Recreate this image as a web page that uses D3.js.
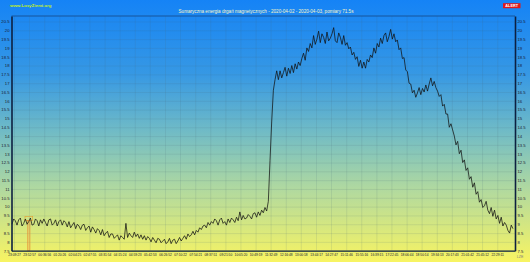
<!DOCTYPE html>
<html><head><meta charset="utf-8">
<script src="https://cdn.jsdelivr.net/npm/d3@7/dist/d3.min.js"></script>
<style>html,body{margin:0;padding:0;overflow:hidden;background:#fff}svg{display:block}</style>
</head><body>
<svg id="c" width="530" height="262"></svg>
<script>
const titleText = "Sumaryczna energia drgań magnetycznych - 2020-04-02 - 2020-04-03, pomiary 71.5s";
const siteText = "www.LosyZiemi.org";
const badgeText = "ALERT";
const cornerText = "LZE";
const xTickLabels = ["23:09:27","23:52:57","00:36:56","01:20:26","02:04:25","02:47:55","03:31:54","04:15:24","04:59:23","05:42:53","06:26:52","07:10:22","07:54:21","08:37:51","09:21:50","10:05:20","10:49:19","11:32:49","12:16:48","13:00:18","13:44:17","14:27:47","15:11:46","15:55:16","16:39:15","17:22:45","18:06:44","18:50:14","19:34:13","20:17:43","21:01:42","21:45:12","22:29:11"];
const yTicks = [7.5,8,8.5,9,9.5,10,10.5,11,11.5,12,12.5,13,13.5,14,14.5,15,15.5,16,16.5,17,17.5,18,18.5,19,19.5,20,20.5];
const xDomainSec = [-434, 87074];      // seconds relative to first tick label
const yDomain = [7.5, 20.81];
const firstSampleSec = -350;
const sampleStepSec = 291.2;
const values = [
9.0,9.3,9.2,8.95,9.25,9.35,8.9,9.05,9.3,9.0,
9.15,9.35,8.95,9.0,9.3,9.2,8.9,9.25,9.05,9.3,
9.1,8.9,9.25,9.3,8.95,9.05,9.25,8.9,9.15,9.25,
8.95,9.2,9.1,8.85,9.15,8.8,8.95,9.1,8.75,9.0,
8.9,8.7,8.95,9.0,8.65,8.8,8.9,8.55,8.85,8.7,
8.5,8.75,8.65,8.4,8.7,8.35,8.5,8.6,8.25,8.45,
8.45,8.2,8.3,8.4,8.1,8.35,8.25,8.15,9.05,8.25,
8.5,8.35,8.25,8.55,8.3,8.45,8.2,8.4,8.15,8.35,
8.1,8.3,8.2,8.0,8.25,8.1,7.95,8.2,8.15,7.95,
8.05,8.15,7.9,8.0,8.2,7.9,8.1,8.15,7.9,8.05,
8.25,8.05,8.2,8.35,8.15,8.45,8.3,8.4,8.6,8.4,
8.65,8.55,8.8,8.7,8.9,8.95,8.8,9.1,8.95,9.15,
9.05,9.3,9.2,8.95,9.25,9.35,9.05,9.15,8.95,9.3,
9.1,9.35,9.25,9.1,9.4,9.2,9.7,9.25,9.5,9.3,
9.35,9.55,9.45,9.3,9.6,9.65,9.4,9.7,9.5,9.8,
9.65,9.95,9.75,10.3,12.6,14.8,16.6,17.2,17.7,17.2,
17.7,17.3,17.6,17.9,17.4,17.85,17.55,18.0,17.6,18.1,
17.8,18.2,18.0,18.4,18.7,18.3,19.0,18.8,19.25,19.0,
19.7,19.2,19.5,19.95,19.3,19.8,19.6,19.25,19.9,19.4,
19.55,19.8,20.15,19.4,19.3,19.85,19.6,19.2,19.7,19.15,
19.3,18.95,19.05,18.6,18.75,18.35,18.5,17.95,18.3,17.85,
18.2,17.85,18.35,18.2,18.6,18.45,19.0,18.7,19.25,19.05,
19.55,19.25,19.7,19.85,19.35,19.65,20.05,19.5,19.8,19.35,
19.45,18.9,19.0,18.4,18.45,17.75,17.65,17.0,16.95,16.45,
16.6,16.2,16.45,16.75,16.35,16.7,16.5,16.9,16.55,16.95,
17.3,16.85,17.1,16.75,16.55,16.25,16.35,15.7,15.8,15.25,
15.25,14.5,14.7,14.35,14.0,13.5,13.7,13.0,13.2,12.5,
12.65,12.05,12.2,11.55,11.7,11.1,11.35,10.7,10.85,10.25,
10.4,9.95,10.05,10.3,9.8,9.6,9.95,9.45,9.8,9.3,
9.5,9.05,9.4,8.9,9.1,8.95,8.65,8.5,8.95,8.75
];
const markerTimeSec = [1912, 3251];
const markerValue = [9.22, 9.45];

// ---------- layout ----------
const W = 530, H = 262;
const L = 11.5, R = 515, T = 16, B = 250.7;
const FONT = "'Liberation Sans', Arial, sans-serif";

function toSec(s){const p=s.split(":").map(Number);return p[0]*3600+p[1]*60+p[2];}
const base = toSec(xTickLabels[0]);
let day = 0, prev = -1;
const xTickSec = xTickLabels.map(s => {
  let v = toSec(s); if (v < prev) day += 86400; prev = v; return v + day - base;
});

const svg = d3.select("#c");
const defs = svg.append("defs");
const grad = defs.append("linearGradient").attr("id","bg").attr("x1",0).attr("y1",0).attr("x2",0).attr("y2",1);
[[0,"#1583f6"],[0.28,"#3698e4"],[0.5,"#70bbc6"],[0.72,"#b0d9a0"],[1,"#f8f462"]].forEach(([o,c]) =>
  grad.append("stop").attr("offset",o).attr("stop-color",c));
svg.append("rect").attr("width",W).attr("height",H).attr("fill","url(#bg)");

const x = d3.scaleLinear().domain(xDomainSec).range([L, R]);
const y = d3.scaleLinear().domain(yDomain).range([B, T]);

// grid
const gridY = svg.append("g").attr("transform",`translate(${L},0)`)
  .call(d3.axisLeft(y).tickValues(yTicks).tickSize(-(R-L)).tickFormat(""));
gridY.select(".domain").remove();
gridY.selectAll("line").attr("stroke","#4a6a78").attr("stroke-opacity",0.25).attr("stroke-width",0.5);
const gridX = svg.append("g").attr("transform",`translate(0,${B})`)
  .call(d3.axisBottom(x).tickValues(xTickSec).tickSize(-(B-T)).tickFormat(""));
gridX.select(".domain").remove();
gridX.selectAll("line").attr("stroke","#4a6a78").attr("stroke-opacity",0.25).attr("stroke-width",0.5);

// top border
svg.append("line").attr("x1",L).attr("x2",R).attr("y1",T).attr("y2",T)
  .attr("stroke","#14407a").attr("stroke-width",0.7);

// marker
const mx0 = x(markerTimeSec[0]), mx1 = x(markerTimeSec[1]);
svg.append("rect").attr("x",mx0).attr("y",y(markerValue[1]))
  .attr("width",mx1-mx0).attr("height",y(markerValue[0])-y(markerValue[1]))
  .attr("fill","none").attr("stroke","#e8a030").attr("stroke-width",0.6);
svg.append("rect").attr("x",(mx0+mx1)/2-1.15).attr("y",y(markerValue[0]))
  .attr("width",2.3).attr("height",B-y(markerValue[0]))
  .attr("fill","rgba(240,150,60,0.35)").attr("stroke","#e88a30").attr("stroke-width",0.5);

// series
const line = d3.line().x((d,i)=>x(firstSampleSec + i*sampleStepSec)).y(d=>y(d));
svg.append("path").datum(values).attr("d",line).attr("fill","none")
  .attr("stroke","#111").attr("stroke-width",0.75).attr("stroke-linejoin","round");

// axes
function styleAxis(g, w, fs){
  g.select(".domain").attr("stroke","#0d2040").attr("stroke-width",w);
  g.selectAll("text").attr("font-family",FONT).attr("font-size",fs).attr("fill","#1a2030");
}
const yl = svg.append("g").attr("transform",`translate(${L},0)`)
  .call(d3.axisLeft(y).tickValues(yTicks).tickSize(0).tickPadding(2).tickFormat(d=>String(d)));
styleAxis(yl,1.6,4.2);
const yr = svg.append("g").attr("transform",`translate(${R},0)`)
  .call(d3.axisRight(y).tickValues(yTicks).tickSize(0).tickPadding(2.5).tickFormat(d=>String(d)));
styleAxis(yr,1.6,4.2);
const xb = svg.append("g").attr("transform",`translate(0,${B})`)
  .call(d3.axisBottom(x).tickValues(xTickSec).tickSize(0).tickPadding(3.4).tickFormat((d,i)=>xTickLabels[i]));
styleAxis(xb,1.2,3.25);

// texts
svg.append("text").attr("x",266).attr("y",12.5).attr("text-anchor","middle")
  .attr("font-family",FONT).attr("font-size",4.6).attr("fill","#fbf6c4").text(titleText);
svg.append("text").attr("x",10).attr("y",6.5)
  .attr("font-family",FONT).attr("font-size",4.4).attr("font-weight","bold").attr("fill","#c4f020").text(siteText);
svg.append("rect").attr("x",503).attr("y",3.2).attr("width",17.5).attr("height",5).attr("fill","#e01818");
svg.append("text").attr("x",511.7).attr("y",7).attr("text-anchor","middle")
  .attr("font-family",FONT).attr("font-size",3.8).attr("font-weight","bold").attr("fill","#fff").text(badgeText);
svg.append("text").attr("x",520).attr("y",258).attr("text-anchor","middle")
  .attr("font-family",FONT).attr("font-size",3.6).attr("fill","#808080").text(cornerText);
</script>
</body></html>
